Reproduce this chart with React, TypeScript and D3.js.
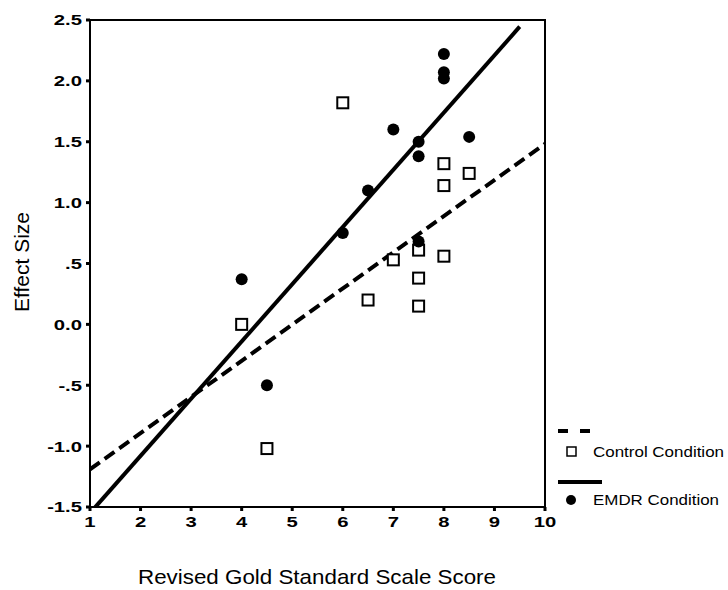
import React from "react";
import * as d3 from "d3";

const xTicks = [1, 2, 3, 4, 5, 6, 7, 8, 9, 10];
const yTicks = [2.5, 2.0, 1.5, 1.0, 0.5, 0.0, -0.5, -1.0, -1.5];
const yTickLabels = ["2.5", "2.0", "1.5", "1.0", ".5", "0.0", "-.5", "-1.0", "-1.5"];

const controlX = [4, 4.5, 6, 6.5, 7, 7.5, 7.5, 7.5, 8, 8, 8, 8.5];
const controlY = [0.0, -1.02, 1.82, 0.2, 0.53, 0.61, 0.38, 0.15, 1.32, 1.14, 0.56, 1.24];

const emdrX = [4, 4.5, 6, 6.5, 7, 7.5, 7.5, 7.5, 8, 8, 8, 8.5];
const emdrY = [0.37, -0.5, 0.75, 1.1, 1.6, 1.5, 1.38, 0.68, 2.22, 2.07, 2.02, 1.54];

// fit lines: [intercept, slope], x range
const controlFit = [-1.487, 0.297];
const controlFitRange = [1, 10];
const emdrFit = [-2.02, 0.47];
const emdrFitRange = [1.1, 9.5];

const legendLabels = ["Control Condition", "EMDR Condition"];

const FONT = "'Liberation Sans', Arial, Helvetica, sans-serif";

export default function App() {
  const W = 728;
  const H = 590;
  const x = d3.scaleLinear().domain([1, 10]).range([90, 545]);
  const y = d3.scaleLinear().domain([-1.5, 2.5]).range([507, 20]);

  const line = d3
    .line<number>()
    .x((d) => x(d[0]))
    .y((d) => y(d[1]));

  const fitPts = (fit: number[], r: number[]) =>
    r.map((v) => [v, fit[0] + fit[1] * v]) as any;

  return (
    <svg
      width={W}
      height={H}
      style={{ position: "absolute", left: 0, top: 0, background: "#fff" }}
      fontFamily={FONT}
    >
      <defs>
        <clipPath id="plotclip">
          <rect x={90} y={20} width={455} height={487} />
        </clipPath>
      </defs>
      {/* frame */}
      <rect x={x(1)} y={y(2.5)} width={x(10) - x(1)} height={y(-1.5) - y(2.5)} fill="none" stroke="#000" strokeWidth={2} />

      {/* y ticks */}
      {yTicks.map((t, i) => (
        <g key={"yt" + i}>
          <line x1={x(1) - 4} x2={x(1)} y1={y(t)} y2={y(t)} stroke="#000" strokeWidth={3} />
          <text
            x={82}
            y={y(t)}
            dy="0.36em"
            textAnchor="end"
            fontSize={15}
            fontWeight="bold"
            transform={`translate(82,0) scale(1.35,1) translate(-82,0)`}
          >
            {yTickLabels[i]}
          </text>
        </g>
      ))}

      {/* x ticks */}
      {xTicks.map((t, i) => (
        <g key={"xt" + i}>
          <line x1={x(t)} x2={x(t)} y1={y(-1.5)} y2={y(-1.5) + 4} stroke="#000" strokeWidth={3} />
          <text
            x={x(t)}
            y={y(-1.5) + 20}
            textAnchor="middle"
            fontSize={15}
            fontWeight="bold"
            transform={`translate(${x(t)},0) scale(1.35,1) translate(${-x(t)},0)`}
          >
            {String(t)}
          </text>
        </g>
      ))}

      {/* axis titles */}
      <text x={138} y={584} fontSize={21} textLength={358} lengthAdjust="spacingAndGlyphs">
        Revised Gold Standard Scale Score
      </text>
      <text transform="translate(29,262) rotate(-90)" textAnchor="middle" fontSize={21}>
        Effect Size
      </text>

      <g clipPath="url(#plotclip)">
        <path d={line(fitPts(controlFit, controlFitRange)) || ""} fill="none" stroke="#000" strokeWidth={4} strokeDasharray="12,6" />
        <path d={line(fitPts(emdrFit, emdrFitRange)) || ""} fill="none" stroke="#000" strokeWidth={4} />
      </g>

      {/* points */}
      {controlX.map((v, i) => (
        <rect key={"c" + i} x={x(v) - 5.5} y={y(controlY[i]) - 5.5} width={11} height={11} fill="#fff" stroke="#000" strokeWidth={2} />
      ))}
      {emdrX.map((v, i) => (
        <circle key={"e" + i} cx={x(v)} cy={y(emdrY[i])} r={6} fill="#000" />
      ))}

      {/* legend */}
      <line x1={558} x2={590} y1={431} y2={431} stroke="#000" strokeWidth={4} strokeDasharray="10,12" />
      <rect x={567} y={447} width={9} height={9} fill="#fff" stroke="#000" strokeWidth={1.5} />
      <text x={593} y={452} dy="0.36em" fontSize={14} textLength={131} lengthAdjust="spacingAndGlyphs">{legendLabels[0]}</text>
      <line x1={558} x2={602} y1={482} y2={482} stroke="#000" strokeWidth={4} />
      <circle cx={571} cy={500} r={5} fill="#000" />
      <text x={593} y={500} dy="0.36em" fontSize={14} textLength={126} lengthAdjust="spacingAndGlyphs">{legendLabels[1]}</text>
    </svg>
  );
}
